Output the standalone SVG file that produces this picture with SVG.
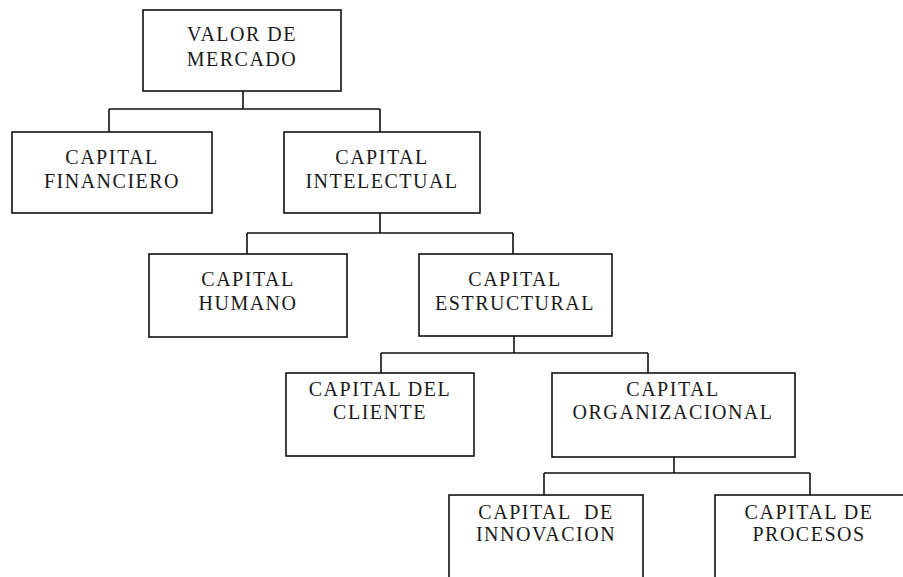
<svg xmlns="http://www.w3.org/2000/svg" width="903" height="577" viewBox="0 0 903 577">
  <style>
    .box { fill: #fff; stroke: #111; stroke-width: 1.6; }
    .wire { fill: none; stroke: #111; stroke-width: 1.6; }
    text { font-family: "Liberation Serif", "DejaVu Serif", serif; font-size: 20px; letter-spacing: 1.5px; fill: #1a1a1a; text-anchor: middle; }
  </style>
  <rect width="903" height="577" fill="#fff"/>

  <!-- tree connectors: parent drop, bus bar, child drops -->
  <g id="connectors">
    <path class="wire" d="M243 91 V109 M109 109 H380 M109 109 V132 M380 109 V132"/>
    <path class="wire" d="M380 213 V233 M247 233 H513 M247 233 V254 M513 233 V254"/>
    <path class="wire" d="M514 336 V353 M381 353 H648 M381 353 V373 M648 353 V373"/>
    <path class="wire" d="M674 457 V473 M544 473 H810 M544 473 V495 M810 473 V495"/>
  </g>

  <g id="valor-mercado">
    <rect class="box" x="143" y="10" width="198" height="81"/>
    <text x="242" y="41">VALOR DE</text>
    <text x="242" y="66">MERCADO</text>
  </g>

  <g id="capital-financiero">
    <rect class="box" x="12" y="132" width="200" height="81"/>
    <text x="112" y="164">CAPITAL</text>
    <text x="112" y="188">FINANCIERO</text>
  </g>

  <g id="capital-intelectual">
    <rect class="box" x="284" y="132" width="196" height="81"/>
    <text x="382" y="164">CAPITAL</text>
    <text x="382" y="188">INTELECTUAL</text>
  </g>

  <g id="capital-humano">
    <rect class="box" x="149" y="254" width="198" height="83"/>
    <text x="248" y="286">CAPITAL</text>
    <text x="248" y="310">HUMANO</text>
  </g>

  <g id="capital-estructural">
    <rect class="box" x="419" y="254" width="193" height="82"/>
    <text x="515" y="286">CAPITAL</text>
    <text x="515" y="310">ESTRUCTURAL</text>
  </g>

  <g id="capital-cliente">
    <rect class="box" x="286" y="373" width="188" height="83"/>
    <text x="380" y="396">CAPITAL DEL</text>
    <text x="380" y="419">CLIENTE</text>
  </g>

  <g id="capital-organizacional">
    <rect class="box" x="552" y="373" width="243" height="84"/>
    <text x="673" y="396">CAPITAL</text>
    <text x="673" y="419">ORGANIZACIONAL</text>
  </g>

  <g id="capital-innovacion">
    <rect class="box" x="449" y="495" width="194" height="90"/>
    <text x="546" y="519" xml:space="preserve">CAPITAL  DE</text>
    <text x="546" y="541">INNOVACION</text>
  </g>

  <g id="capital-procesos">
    <rect class="box" x="715" y="495" width="196" height="90"/>
    <text x="809" y="519">CAPITAL DE</text>
    <text x="809" y="541">PROCESOS</text>
  </g>
</svg>
